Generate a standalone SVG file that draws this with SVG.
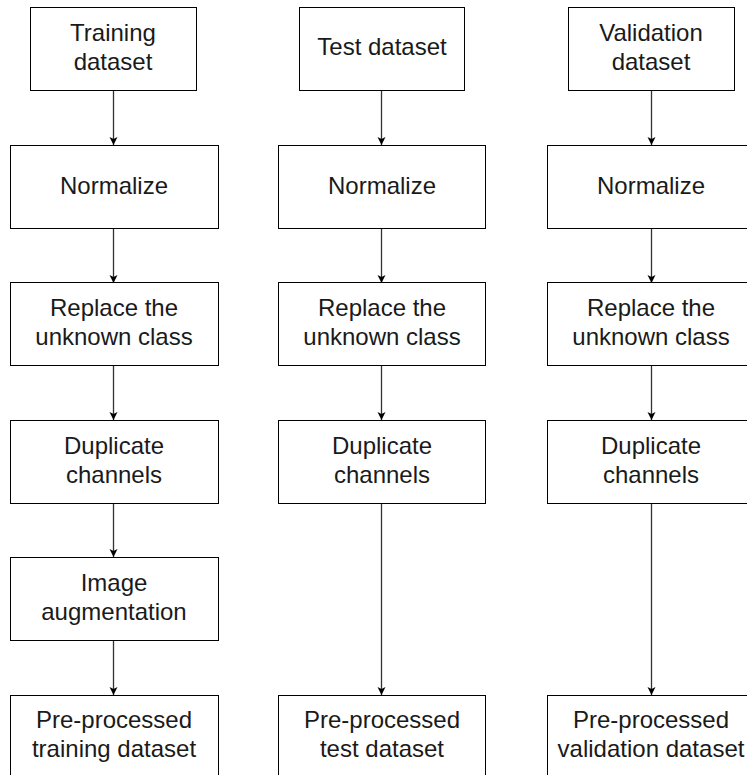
<svg xmlns="http://www.w3.org/2000/svg" width="747" height="775" viewBox="0 0 747 775">
<style>
.box{fill:#fff;stroke:#000;stroke-width:1}
.lbl{font-family:"Liberation Sans",Arial,sans-serif;font-size:24px;fill:#1a1a1a;text-anchor:middle}
.edge{fill:none;stroke:#333;stroke-width:1.3}
</style>
<defs>
<marker id="arr" markerUnits="userSpaceOnUse" markerWidth="10" markerHeight="10" viewBox="0 0 10 10" refX="9" refY="5" orient="auto">
<path d="M1,1 L9,5 L1,9 L3,5 Z" fill="#000"/>
</marker>
</defs>
<rect width="747" height="775" fill="#fff"/>
<g id="connectors">
<path class="edge" d="M113.5,90 V145" marker-end="url(#arr)"/>
<path class="edge" d="M113.5,228 V283" marker-end="url(#arr)"/>
<path class="edge" d="M113.5,365 V420" marker-end="url(#arr)"/>
<path class="edge" d="M113.5,503 V557" marker-end="url(#arr)"/>
<path class="edge" d="M113.5,640 V695" marker-end="url(#arr)"/>
<path class="edge" d="M381.5,90 V145" marker-end="url(#arr)"/>
<path class="edge" d="M381.5,228 V283" marker-end="url(#arr)"/>
<path class="edge" d="M381.5,365 V420" marker-end="url(#arr)"/>
<path class="edge" d="M381.5,503 V695" marker-end="url(#arr)"/>
<path class="edge" d="M651.5,90 V145" marker-end="url(#arr)"/>
<path class="edge" d="M651.5,228 V283" marker-end="url(#arr)"/>
<path class="edge" d="M651.5,365 V420" marker-end="url(#arr)"/>
<path class="edge" d="M651.5,503 V695" marker-end="url(#arr)"/>
</g>
<g id="train-dataset"><rect class="box" x="30.5" y="7.5" width="166" height="83"/><text class="lbl" x="113" y="40.5">Training</text><text class="lbl" x="113" y="69.5">dataset</text></g>
<g id="train-normalize"><rect class="box" x="10.5" y="145.5" width="208" height="83"/><text class="lbl" x="114" y="193.5">Normalize</text></g>
<g id="train-replace"><rect class="box" x="10.5" y="282.5" width="208" height="83"/><text class="lbl" x="114" y="316">Replace the</text><text class="lbl" x="114" y="345">unknown class</text></g>
<g id="train-duplicate"><rect class="box" x="10.5" y="420.5" width="208" height="83"/><text class="lbl" x="114" y="453.5">Duplicate</text><text class="lbl" x="114" y="482.5">channels</text></g>
<g id="train-augment"><rect class="box" x="10.5" y="557.5" width="208" height="83"/><text class="lbl" x="114" y="590.5">Image</text><text class="lbl" x="114" y="619.5">augmentation</text></g>
<g id="train-pre"><rect class="box" x="10.5" y="695.5" width="208" height="83"/><text class="lbl" x="114" y="728">Pre-processed</text><text class="lbl" x="114" y="757">training dataset</text></g>

<g id="test-dataset"><rect class="box" x="299.5" y="7.5" width="165" height="83"/><text class="lbl" x="382" y="55">Test dataset</text></g>
<g id="test-normalize"><rect class="box" x="278.5" y="145.5" width="207" height="83"/><text class="lbl" x="382" y="193.5">Normalize</text></g>
<g id="test-replace"><rect class="box" x="278.5" y="282.5" width="207" height="83"/><text class="lbl" x="382" y="316">Replace the</text><text class="lbl" x="382" y="345">unknown class</text></g>
<g id="test-duplicate"><rect class="box" x="278.5" y="420.5" width="207" height="83"/><text class="lbl" x="382" y="453.5">Duplicate</text><text class="lbl" x="382" y="482.5">channels</text></g>
<g id="test-pre"><rect class="box" x="278.5" y="695.5" width="207" height="83"/><text class="lbl" x="382" y="728">Pre-processed</text><text class="lbl" x="382" y="757">test dataset</text></g>

<g id="val-dataset"><rect class="box" x="568.5" y="7.5" width="166" height="83"/><text class="lbl" x="651" y="40.5">Validation</text><text class="lbl" x="651" y="69.5">dataset</text></g>
<g id="val-normalize"><rect class="box" x="547.5" y="145.5" width="208" height="83"/><text class="lbl" x="651" y="193.5">Normalize</text></g>
<g id="val-replace"><rect class="box" x="547.5" y="282.5" width="208" height="83"/><text class="lbl" x="651" y="316">Replace the</text><text class="lbl" x="651" y="345">unknown class</text></g>
<g id="val-duplicate"><rect class="box" x="547.5" y="420.5" width="208" height="83"/><text class="lbl" x="651" y="453.5">Duplicate</text><text class="lbl" x="651" y="482.5">channels</text></g>
<g id="val-pre"><rect class="box" x="547.5" y="695.5" width="208" height="83"/><text class="lbl" x="651" y="728">Pre-processed</text><text class="lbl" x="651" y="757">validation dataset</text></g>
</svg>
